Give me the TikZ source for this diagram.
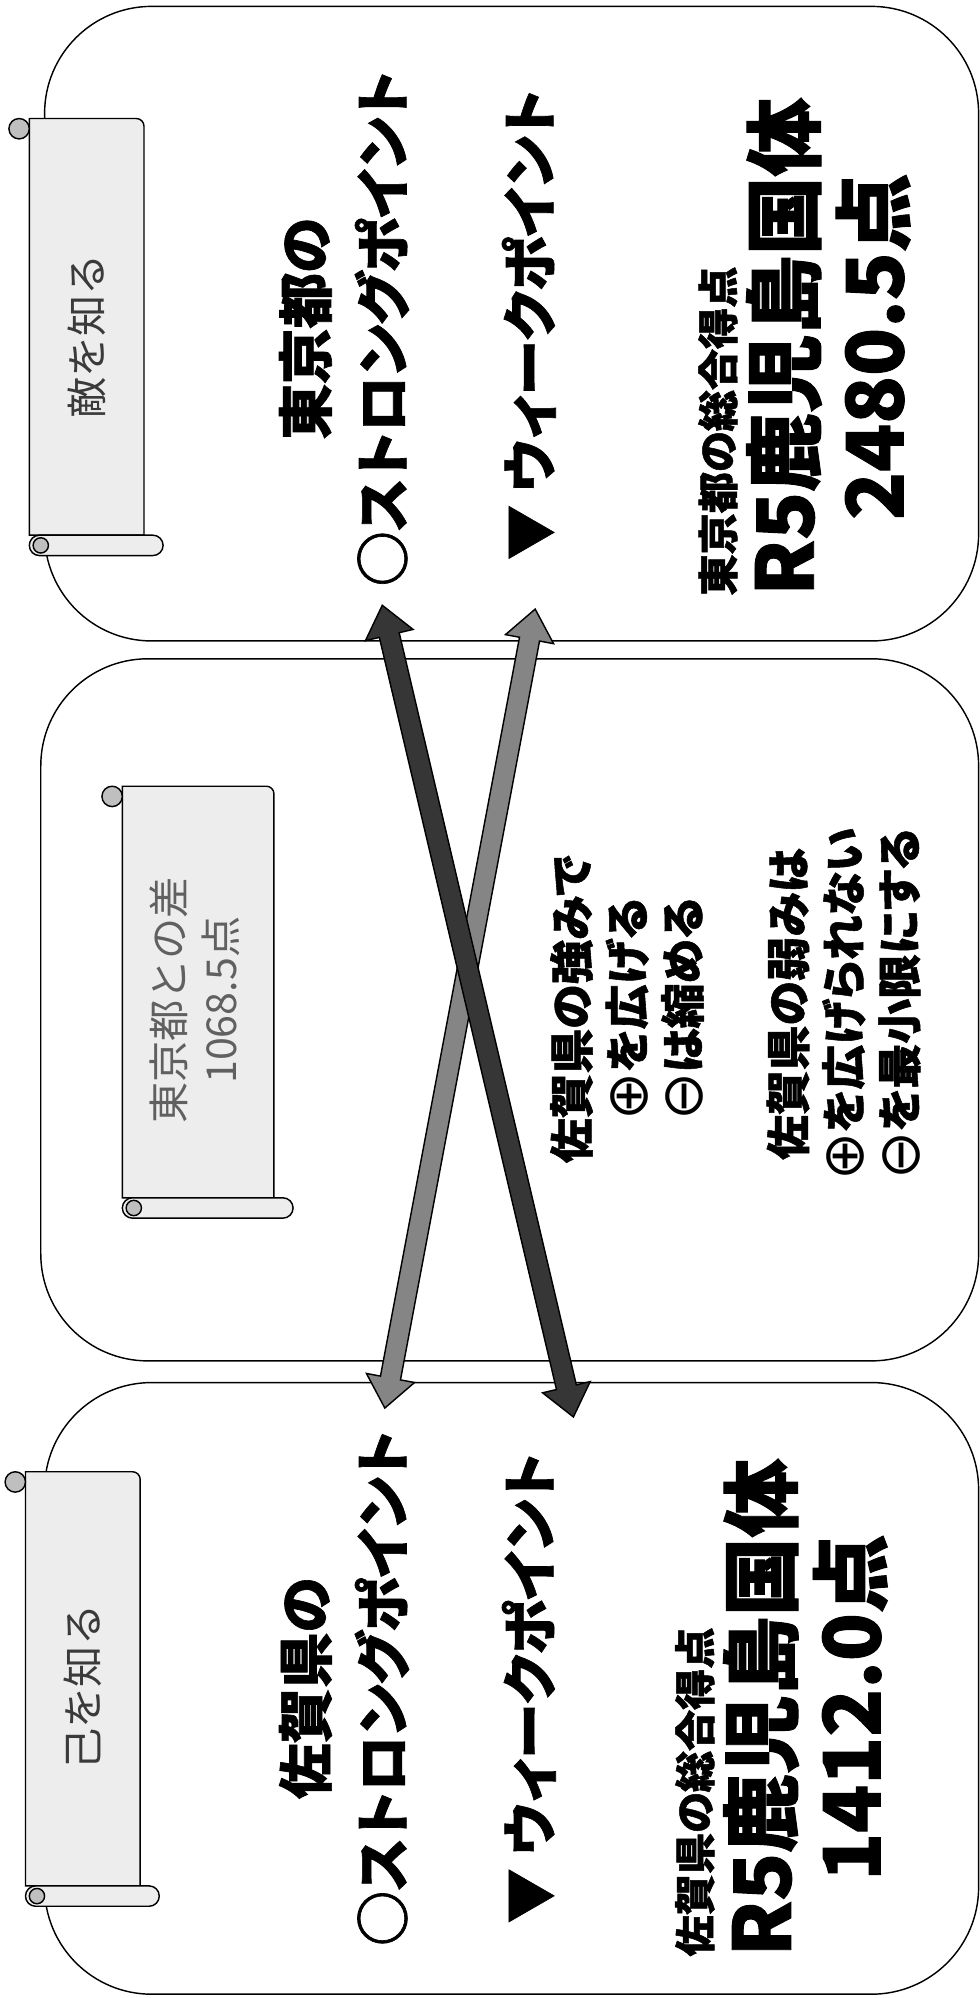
\documentclass[tikz,border=0pt]{standalone}
\usepackage{fontspec}
\setmainfont{Noto Sans CJK JP}
\newfontfamily\jpgothic{Noto Sans CJK JP}[RawFeature=+palt,BoldFeatures={FakeBold=1.2}]
\newfontfamily\symfont{DejaVu Sans}
\usetikzlibrary{calc}

\definecolor{paper}{HTML}{EDEDED}
\definecolor{curlgray}{HTML}{BFBFBF}
\definecolor{darkarrow}{HTML}{363636}
\definecolor{lightarrow}{HTML}{858585}
\definecolor{scrollink}{HTML}{3A3A3A}
\definecolor{gapink}{HTML}{606060}

\newcommand{\maruplus}{{\symfont\mdseries\fontsize{32}{32}\selectfont\raisebox{-0.06em}{⊕}}}
\newcommand{\maruminus}{{\symfont\mdseries\fontsize{32}{32}\selectfont\raisebox{-0.06em}{⊖}}}

% vertical scroll: left x, top y, right x, roll y
\newcommand{\vscroll}[4]{%
  \filldraw[fill=paper] (#1,-#2) -- (#3-6,-#2) arc[start angle=90,end angle=0,radius=6] -- (#3,-#4) -- (#1,-#4) -- cycle;
  \filldraw[fill=paper] (#1+8,-#4) -- (#3+7,-#4) arc[start angle=90,end angle=-90,radius=8]
    -- (#1+8,-#4-16) arc[start angle=-90,end angle=-270,radius=8] -- cycle;
  \filldraw[fill=curlgray] (#1+9,-#4-8) circle[radius=6];
  \filldraw[fill=curlgray] (#1-8,-#2-8) circle[radius=8];
}
% double block arrow between two coordinates
\newcommand{\blockarrow}[3]{%
  \coordinate (#1-h) at ($(#1)!0.6cm!(#2)$);
  \coordinate (#2-h) at ($(#2)!0.6cm!(#1)$);
  \filldraw[fill=#3] (#1) -- ($(#1-h)!0.48cm!90:(#2)$) -- ($(#1-h)!0.2cm!90:(#2)$)
    -- ($(#2-h)!0.2cm!-90:(#1)$) -- ($(#2-h)!0.48cm!-90:(#1)$) -- (#2)
    -- ($(#2-h)!0.48cm!90:(#1)$) -- ($(#2-h)!0.2cm!90:(#1)$)
    -- ($(#1-h)!0.2cm!-90:(#2)$) -- ($(#1-h)!0.48cm!-90:(#2)$) -- cycle;
}

\begin{document}
\begin{tikzpicture}[x=0.025cm,y=0.025cm,line width=0.8pt,
    panel/.style={draw,rounded corners=2.1cm},
    bigtext/.style={rotate=90,align=center,inner sep=0pt,font=\jpgothic\bfseries\fontsize{31}{43}\selectfont},
    plantext/.style={rotate=90,align=center,inner sep=0pt,font=\jpgothic\bfseries\fontsize{25}{31}\selectfont},
    scoretext/.style={rotate=90,align=center,inner sep=0pt,font=\jpgothic\bfseries\fontsize{44}{50}\selectfont},
    labeltext/.style={rotate=90,anchor=south west,inner sep=0pt,yshift=4pt,font=\jpgothic\bfseries\fontsize{23}{28}\selectfont},
    scrolltext/.style={rotate=90,align=center,inner sep=0pt,text=scrollink,font=\fontsize{23}{29}\selectfont}]
\useasboundingbox (0,0) rectangle (769,-1568);

% three panels
\draw[panel] (35,-5) rectangle (768,-503);
\draw[panel] (32,-517) rectangle (768,-1068);
\draw[panel] (35,-1085) rectangle (768,-1565);

% scrolls
\vscroll{23}{93}{113}{420}
\vscroll{96}{617}{215}{940}
\vscroll{20}{1155}{110}{1480}
\node[scrolltext] (enemy) at (68,-264) {敵を知る};
\node[scrolltext,text=gapink] (gap) at (153,-785) {東京都との差\\1068.5点};
\node[scrolltext] (self) at (65,-1324) {己を知る};

% Tokyo
\node[bigtext] (tokyoTitle) at (270,-258) {東京都の\\○ストロングポイント};
\node[bigtext] (tokyoWeak) at (415,-255) {▼ ウィークポイント};
\node[scoretext] (tokyoScore) at (650,-272) {R5鹿児島国体\\2480.5点};
\node[labeltext] (tokyoLabel) at (tokyoScore.north west) {東京都の総合得点};

% middle
\node[plantext] (strongPlan) at (492,-792) {佐賀県の強みで\\\maruplus を広げる\\\maruminus は縮める};
\node[plantext] (weakPlan) at (662,-788) {佐賀県の弱みは\\\maruplus を広げられない\\\maruminus を最小限にする};

% Saga
\node[bigtext] (sagaTitle) at (270,-1325) {佐賀県の\\○ストロングポイント};
\node[bigtext] (sagaWeak) at (415,-1325) {▼ ウィークポイント};
\node[scoretext] (sagaScore) at (632,-1340) {R5鹿児島国体\\1412.0点};
\node[labeltext] (sagaLabel) at (sagaScore.north west) {佐賀県の総合得点};

% arrows
\coordinate (tokyoWeakEnd) at (420,-478);
\coordinate (sagaStrongEnd) at (302,-1105);
\coordinate (tokyoStrongEnd) at (300,-475);
\coordinate (sagaWeakEnd) at (450,-1112);
\blockarrow{tokyoWeakEnd}{sagaStrongEnd}{lightarrow}
\blockarrow{tokyoStrongEnd}{sagaWeakEnd}{darkarrow}
\end{tikzpicture}
\end{document}
